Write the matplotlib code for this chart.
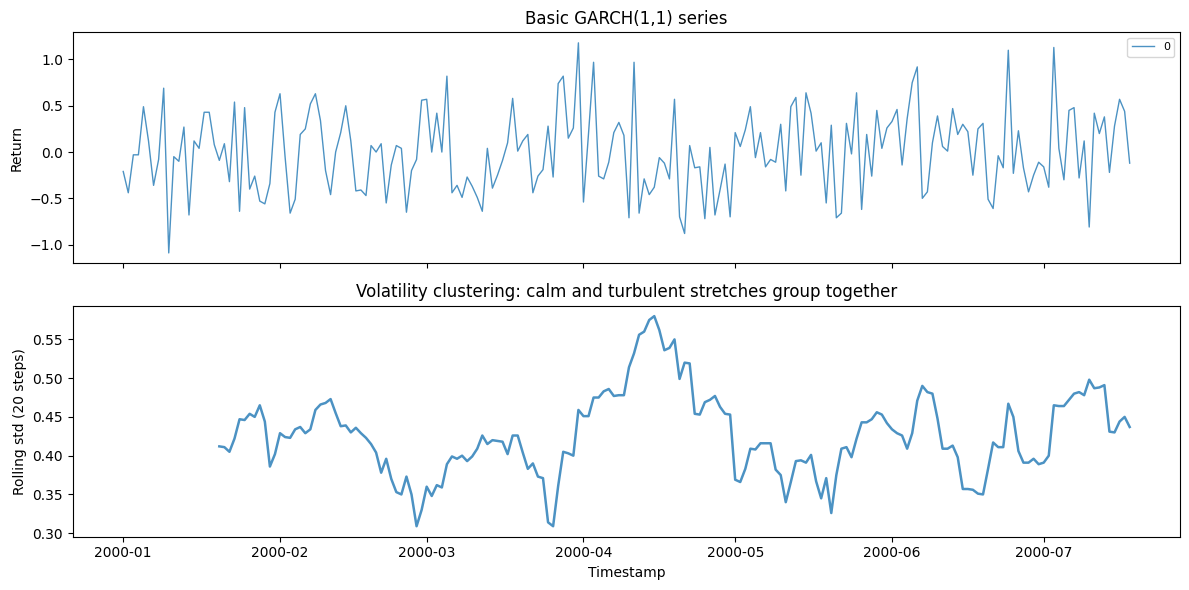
import numpy as np
import pandas as pd
import matplotlib
matplotlib.use("Agg")
import matplotlib.pyplot as plt

# daily returns, starting 2000-01-01
returns = [
    -0.21, -0.44, -0.03, -0.03, 0.49, 0.12, -0.36, -0.08, 0.69, -1.09,
    -0.05, -0.10, 0.27, -0.68, 0.12, 0.04, 0.43, 0.43, 0.08, -0.09,
    0.09, -0.32, 0.54, -0.64, 0.48, -0.40, -0.26, -0.53, -0.56, -0.34,
    0.43, 0.63, -0.05, -0.66, -0.51, 0.19, 0.25, 0.52, 0.63, 0.34,
    -0.20, -0.46, 0.00, 0.21, 0.50, 0.12, -0.42, -0.41, -0.47, 0.07,
    0.00, 0.09, -0.55, -0.14, 0.07, 0.04, -0.65, -0.20, -0.08, 0.56,
    0.57, 0.00, 0.42, 0.00, 0.82, -0.44, -0.36, -0.49, -0.27, -0.37,
    -0.49, -0.64, 0.04, -0.39, -0.25, -0.09, 0.10, 0.58, 0.01, 0.12,
    0.19, -0.44, -0.26, -0.19, 0.28, -0.27, 0.74, 0.82, 0.15, 0.26,
    1.18, -0.54, 0.20, 0.97, -0.26, -0.29, -0.11, 0.21, 0.32, 0.18,
    -0.71, 0.97, -0.66, -0.29, -0.46, -0.38, -0.06, -0.12, -0.29, 0.57,
    -0.70, -0.88, 0.07, -0.17, -0.16, -0.72, 0.05, -0.68, -0.41, -0.13,
    -0.70, 0.21, 0.06, 0.24, 0.49, -0.06, 0.21, -0.16, -0.08, -0.11,
    0.30, -0.42, 0.49, 0.59, -0.25, 0.64, 0.42, 0.01, 0.10, -0.55,
    0.29, -0.71, -0.66, 0.31, -0.02, 0.64, -0.62, 0.19, -0.26, 0.45,
    0.04, 0.26, 0.33, 0.46, -0.14, 0.36, 0.75, 0.92, -0.50, -0.43,
    0.10, 0.39, 0.06, 0.01, 0.47, 0.19, 0.30, 0.22, -0.25, 0.25,
    0.31, -0.51, -0.61, -0.04, -0.17, 1.10, -0.23, 0.23, -0.17, -0.43,
    -0.25, -0.11, -0.16, -0.38, 1.13, 0.04, -0.30, 0.45, 0.48, -0.28,
    0.12, -0.81, 0.42, 0.20, 0.38, -0.22, 0.28, 0.57, 0.44, -0.12,
]

# rolling std (20 steps), first 19 entries empty
rolling_std = [np.nan] * 19 + [
    0.412, 0.411, 0.405, 0.422, 0.447, 0.446, 0.454, 0.450, 0.465, 0.444,
    0.386, 0.402, 0.429, 0.424, 0.423, 0.434, 0.437, 0.429, 0.434, 0.459,
    0.466, 0.468, 0.473, 0.455, 0.438, 0.439, 0.430, 0.436, 0.429, 0.423,
    0.415, 0.404, 0.378, 0.396, 0.370, 0.353, 0.350, 0.373, 0.350, 0.309,
    0.330, 0.360, 0.348, 0.362, 0.359, 0.389, 0.399, 0.396, 0.400, 0.393,
    0.399, 0.409, 0.426, 0.415, 0.420, 0.419, 0.418, 0.402, 0.426, 0.426,
    0.404, 0.383, 0.390, 0.373, 0.371, 0.314, 0.309, 0.361, 0.405, 0.403,
    0.400, 0.459, 0.451, 0.451, 0.475, 0.475, 0.483, 0.486, 0.477, 0.478,
    0.478, 0.514, 0.532, 0.556, 0.560, 0.575, 0.580, 0.562, 0.536, 0.539,
    0.550, 0.499, 0.520, 0.519, 0.454, 0.453, 0.469, 0.472, 0.477, 0.463,
    0.454, 0.453, 0.369, 0.366, 0.383, 0.409, 0.408, 0.416, 0.416, 0.416,
    0.382, 0.375, 0.340, 0.366, 0.393, 0.394, 0.391, 0.401, 0.367, 0.345,
    0.371, 0.326, 0.375, 0.409, 0.411, 0.398, 0.422, 0.443, 0.443, 0.447,
    0.456, 0.453, 0.442, 0.434, 0.429, 0.426, 0.409, 0.429, 0.471, 0.490,
    0.482, 0.480, 0.448, 0.409, 0.409, 0.413, 0.398, 0.357, 0.357, 0.356,
    0.351, 0.350, 0.383, 0.417, 0.411, 0.411, 0.467, 0.450, 0.406, 0.391,
    0.391, 0.396, 0.389, 0.391, 0.400, 0.465, 0.464, 0.464, 0.472, 0.480,
    0.482, 0.478, 0.498, 0.487, 0.488, 0.491, 0.431, 0.430, 0.444, 0.450,
    0.437,
]

dates = pd.date_range("2000-01-01", periods=len(returns), freq="D")

fig, (ax1, ax2) = plt.subplots(2, 1, figsize=(12, 6), dpi=100, sharex=True)

ax1.plot(dates, returns, lw=1, alpha=0.8, label="0")
ax1.set_title("Basic GARCH(1,1) series")
ax1.set_ylabel("Return")
ax1.legend(loc="upper right", fontsize=8)

ax2.plot(dates, rolling_std, lw=1.8, alpha=0.8)
ax2.set_title("Volatility clustering: calm and turbulent stretches group together")
ax2.set_ylabel("Rolling std (20 steps)")
ax2.set_xlabel("Timestamp")

plt.tight_layout()
plt.savefig("out.png", bbox_inches="tight")
